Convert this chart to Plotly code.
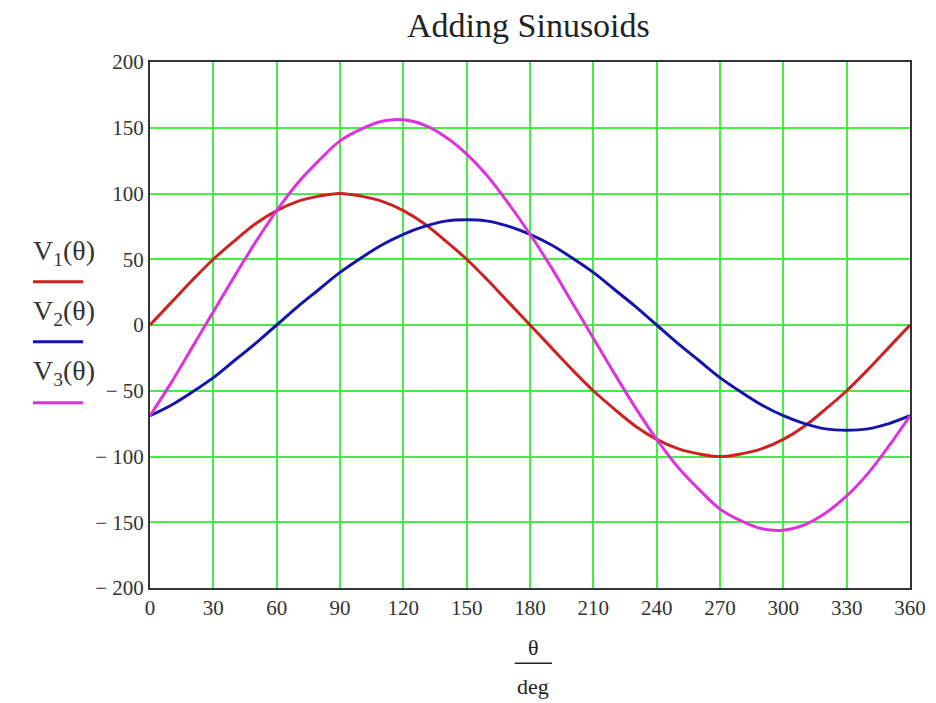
import plotly.graph_objects as go

theta = list(range(0, 361, 10))
v1 = [0, 17, 34, 50, 64, 77, 87, 94, 98, 100, 98, 94, 87, 77, 64, 50, 34, 17, 0,
      -17, -34, -50, -64, -77, -87, -94, -98, -100, -98, -94, -87, -77, -64, -50, -34, -17, 0]
v2 = [-69, -61, -51, -40, -27, -14, 0, 14, 27, 40, 51, 61, 69, 75, 79, 80, 79, 75, 69,
      61, 51, 40, 27, 14, 0, -14, -27, -40, -51, -61, -69, -75, -79, -80, -79, -75, -69]
v3 = [-69, -44, -17, 10, 37, 63, 87, 108, 125, 140, 149, 155, 156, 152, 143, 130, 113, 92, 69,
      44, 17, -10, -37, -63, -87, -108, -125, -140, -149, -155, -156, -152, -143, -130, -113, -92, -69]

x_ticks = list(range(0, 361, 30))
y_ticks = list(range(-200, 201, 50))
y_ticktext = [("\u2212 " + str(-v)) if v < 0 else str(v) for v in y_ticks]

series = [("V<sub>1</sub>(\u03b8)", v1, "#cc2222"),
          ("V<sub>2</sub>(\u03b8)", v2, "#1414aa"),
          ("V<sub>3</sub>(\u03b8)", v3, "#dd33dd")]

FONT = "Liberation Serif, Times New Roman, serif"

fig = go.Figure()
for name, vals, col in series:
    fig.add_trace(go.Scatter(x=theta, y=vals, mode="lines", name=name,
                             line=dict(color=col, width=3, shape="spline"),
                             showlegend=False))

fig.update_layout(
    width=936, height=703,
    margin=dict(l=142, r=34, t=54, b=123),
    paper_bgcolor="white", plot_bgcolor="white",
    font=dict(family=FONT, size=21, color="#333333"),
    title=dict(text="Adding Sinusoids", x=0.556, xanchor="center", y=0.975, yanchor="middle",
               font=dict(family=FONT, size=34, color="#222222")),
    xaxis=dict(range=[0, 360], tickvals=x_ticks, ticks="", showgrid=True,
               gridcolor="#44ee44", gridwidth=2, zeroline=False,
               showline=True, linecolor="#333333", linewidth=2, mirror=True),
    yaxis=dict(range=[-200, 200], tickvals=y_ticks, ticktext=y_ticktext, ticks="",
               showgrid=True, gridcolor="#44ee44", gridwidth=2, zeroline=False,
               showline=True, linecolor="#333333", linewidth=2, mirror=True),
)

# legend-like labels on the left (paper coords: x=(px-150)/760, y=(588-py)/526)
leg_text_y = [0.637, 0.523, 0.409]
leg_line_y = [0.582, 0.468, 0.352]
for (name, _, col), ty, ly in zip(series, leg_text_y, leg_line_y):
    fig.add_annotation(text=name, xref="paper", yref="paper", x=-0.113, y=ty,
                       showarrow=False, xanchor="center", yanchor="middle",
                       font=dict(family=FONT, size=28, color="#333333"))
    fig.add_shape(type="line", xref="paper", yref="paper", x0=-0.154, x1=-0.088,
                  y0=ly, y1=ly, line=dict(color=col, width=3))

# x-axis label theta / deg
fig.add_annotation(text="\u03b8", xref="paper", yref="paper", x=0.504, y=-0.114,
                   showarrow=False, xanchor="center", yanchor="middle",
                   font=dict(family=FONT, size=22, color="#222222"))
fig.add_shape(type="line", xref="paper", yref="paper", x0=0.480, x1=0.529,
              y0=-0.143, y1=-0.143, line=dict(color="#222222", width=1.5))
fig.add_annotation(text="deg", xref="paper", yref="paper", x=0.504, y=-0.188,
                   showarrow=False, xanchor="center", yanchor="middle",
                   font=dict(family=FONT, size=22, color="#222222"))

fig.write_html("out.html")
